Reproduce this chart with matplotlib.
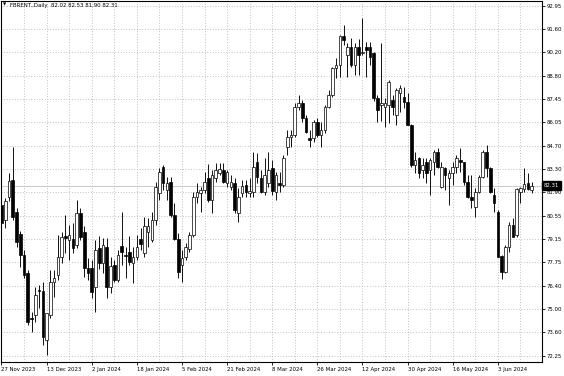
import matplotlib
matplotlib.use("Agg")
import matplotlib.pyplot as plt
from matplotlib.transforms import blended_transform_factory

# ---- data ----
opens = [81.15, 80.30, 81.65, 82.64, 80.77, 79.43, 78.20, 77.12, 74.50, 74.66,
         76.15, 76.10, 73.18, 74.66, 76.63, 77.02, 78.10, 79.30, 79.09, 79.13,
         78.80, 80.70, 79.58, 77.42, 77.42, 76.33, 78.60, 77.71, 78.70, 76.33,
         77.61, 76.73, 78.74, 78.20, 78.40, 77.71, 78.10, 79.13, 78.30, 79.58,
         79.09, 80.27, 81.85, 83.43, 82.05, 82.54, 80.57, 79.13, 77.61, 78.10,
         78.55, 79.39, 81.65, 81.85, 82.05, 82.74, 81.46, 82.74, 83.04, 83.23,
         82.44, 82.24, 82.44, 80.67, 81.85, 82.34, 81.85, 81.95, 83.72, 82.74,
         81.95, 82.44, 83.35, 81.95, 82.44, 82.34, 84.61, 85.20, 85.30, 86.98,
         87.18, 86.29, 85.10, 85.10, 86.09, 85.30, 85.60, 86.98, 87.67, 89.25,
         89.44, 91.13, 90.03, 90.53, 89.44, 90.53, 90.13, 90.53, 90.49, 90.13,
         87.47, 87.08, 86.98, 87.08, 87.37, 86.48, 87.77, 87.57, 87.23, 85.89,
         83.53, 83.92, 83.23, 83.72, 83.23, 83.72, 84.31, 82.24, 83.33, 82.74,
         83.04, 83.43, 83.82, 83.72, 82.54, 81.65, 81.06, 81.95, 82.83, 84.31,
         83.33, 81.75, 80.77, 78.15, 77.22, 78.66, 79.98, 79.39, 81.95, 82.09,
         82.44, 82.02]
highs = [81.50, 81.60, 83.05, 84.60, 80.97, 79.60, 78.50, 77.30, 74.85, 76.33,
         76.43, 76.63, 74.80, 77.32, 77.30, 79.39, 79.58, 80.57, 79.98, 80.08,
         81.46, 80.97, 79.90, 78.00, 77.90, 79.09, 79.33, 79.19, 79.20, 78.10,
         77.90, 78.50, 80.77, 78.70, 79.33, 78.70, 79.39, 79.78, 80.47, 80.38,
         80.77, 82.54, 83.33, 83.53, 82.83, 82.83, 81.26, 79.50, 78.50, 78.90,
         79.58, 81.95, 82.44, 82.24, 83.13, 83.58, 83.23, 83.63, 83.63, 83.63,
         83.23, 82.93, 82.74, 82.15, 82.64, 82.64, 82.74, 84.31, 84.22, 83.23,
         83.92, 84.31, 83.82, 83.10, 83.13, 84.12, 85.60, 85.60, 87.18, 87.67,
         87.37, 86.48, 85.60, 86.19, 86.30, 86.09, 87.08, 87.96, 89.34, 89.84,
         91.21, 91.80, 90.72, 91.02, 90.72, 91.00, 92.20, 90.82, 90.82, 90.19,
         87.67, 90.72, 87.47, 88.55, 87.67, 88.06, 88.25, 88.16, 87.77, 85.95,
         84.31, 84.00, 83.92, 83.92, 83.92, 84.41, 84.51, 83.72, 83.43, 83.23,
         83.72, 84.12, 84.51, 83.72, 82.93, 82.93, 82.15, 82.93, 84.41, 84.71,
         83.43, 82.15, 80.87, 78.20, 78.80, 80.17, 80.38, 82.15, 82.20, 83.33,
         83.04, 82.53]
lows = [79.10, 79.80, 81.40, 80.30, 78.70, 77.50, 76.83, 74.06, 73.67, 74.26,
        75.05, 72.88, 72.29, 74.50, 75.74, 76.70, 77.71, 78.30, 77.91, 78.30,
        78.60, 79.10, 76.92, 76.73, 75.64, 74.85, 77.40, 77.12, 75.64, 75.94,
        76.60, 76.60, 77.61, 76.83, 77.61, 76.53, 77.91, 78.50, 78.10, 78.70,
        79.00, 79.98, 81.46, 82.05, 81.46, 80.47, 79.09, 76.83, 76.63, 77.91,
        78.40, 79.29, 81.26, 80.77, 81.85, 81.36, 80.67, 82.54, 82.93, 82.44,
        82.24, 82.05, 80.67, 80.17, 81.65, 81.65, 81.65, 81.65, 82.44, 81.85,
        81.75, 82.24, 81.75, 81.46, 81.95, 82.24, 84.12, 84.61, 85.20, 86.78,
        86.09, 85.40, 84.61, 84.90, 85.20, 84.61, 85.40, 86.88, 87.57, 88.65,
        88.75, 90.62, 88.75, 89.34, 88.85, 88.85, 90.03, 88.75, 89.44, 87.30,
        86.09, 86.13, 85.79, 85.99, 86.48, 85.89, 86.68, 86.88, 85.89, 83.43,
        83.04, 82.74, 82.74, 82.44, 81.75, 82.93, 83.33, 82.15, 82.05, 81.16,
        82.34, 83.04, 83.13, 82.34, 81.56, 80.97, 80.47, 81.85, 82.74, 82.83,
        81.85, 80.77, 78.10, 76.77, 77.12, 78.40, 79.29, 79.29, 81.26, 81.95,
        82.05, 81.90]
closes = [80.10, 81.40, 82.60, 80.47, 79.00, 78.20, 77.02, 74.26, 74.42, 75.84,
          76.10, 73.37, 74.79, 76.63, 76.83, 78.10, 79.29, 79.23, 79.39, 78.60,
          80.70, 79.29, 77.42, 77.12, 76.03, 78.50, 77.71, 78.80, 76.33, 77.55,
          76.73, 78.20, 78.40, 78.14, 77.81, 78.10, 78.70, 78.86, 79.92, 79.92,
          80.27, 82.24, 83.13, 82.44, 82.44, 80.57, 79.13, 77.22, 78.00, 78.70,
          79.39, 81.65, 81.95, 82.05, 82.54, 81.46, 82.93, 83.23, 83.27, 82.54,
          83.13, 82.54, 80.87, 81.65, 82.28, 81.95, 82.00, 83.43, 82.83, 81.95,
          82.93, 83.23, 82.00, 82.93, 82.34, 83.92, 85.20, 85.30, 86.98, 87.18,
          86.29, 85.50, 85.00, 86.09, 85.30, 85.60, 86.98, 87.67, 89.25, 89.44,
          91.13, 90.92, 90.53, 89.44, 90.53, 90.03, 90.20, 90.33, 89.93, 87.47,
          86.78, 87.18, 87.18, 88.45, 86.98, 87.96, 88.06, 87.27, 85.89, 83.53,
          83.82, 83.04, 83.53, 83.04, 83.82, 84.31, 83.43, 83.43, 82.93, 83.04,
          83.43, 83.92, 83.72, 82.54, 81.65, 81.46, 81.95, 82.83, 84.31, 83.33,
          81.95, 81.26, 78.10, 77.22, 78.66, 79.98, 79.29, 82.09, 82.15, 82.39,
          82.09, 82.31]

date_labels = ["27 Nov 2023", "13 Dec 2023", "2 Jan 2024", "18 Jan 2024",
               "5 Feb 2024", "21 Feb 2024", "8 Mar 2024", "26 Mar 2024",
               "12 Apr 2024", "30 Apr 2024", "16 May 2024", "3 Jun 2024"]
price_labels = ["72.25", "73.60", "75.00", "76.40", "77.75", "79.15", "80.55",
                "81.90", "83.30", "84.70", "86.05", "87.45", "88.80", "90.20",
                "91.60", "92.95"]
price_start = 72.25
price_step = 1.38
symbol_title = "FBRENT.,Daily"

# ---- figure ----
W, H = 564, 376
fig = plt.figure(figsize=(W / 100, H / 100), dpi=100)
fig.patch.set_facecolor("white")
ax = fig.add_axes([1 / W, 14 / H, 541 / W, 361 / H])
ax.set_facecolor("white")

n = len(opens)
xs = list(range(n))
ax.set_xlim(-0.13, 143.75)
ax.set_ylim(71.877, 93.226)

# grid / ticks
ytick_pos = [price_start + price_step * k for k in range(len(price_labels))]
ax.set_yticks(ytick_pos)
ax.set_yticklabels(price_labels)
ax.yaxis.tick_right()
ax.set_xticks(list(range(0, 12 * len(date_labels), 12)))
ax.set_xticklabels(date_labels, ha="left")
ax.set_xticks(list(range(6, n, 12)), minor=True)

grid_kw = dict(color="#b8b8b8", linestyle=(0, (1, 2)), linewidth=0.65)
ax.grid(True, which="major", axis="both", **grid_kw)
ax.xaxis.grid(True, which="minor", **grid_kw)
ax.set_axisbelow(True)

font = "DejaVu Sans"
fs = 3.9
ax.tick_params(axis="y", which="major", direction="out", length=2.2, width=0.6,
               pad=1.2, labelsize=fs, colors="black")
ax.tick_params(axis="x", which="major", direction="out", length=2.2, width=0.6,
               pad=1.5, labelsize=fs, colors="black")
ax.tick_params(axis="x", which="minor", length=0)
for lab in ax.get_xticklabels() + ax.get_yticklabels():
    lab.set_family(font)

for sp in ax.spines.values():
    sp.set_color("black")
    sp.set_linewidth(0.8)

# bid line
ax.axhline(closes[-1], color="#c4c4c4", linewidth=0.6, zorder=1)

# candles
ax.vlines(xs, lows, highs, colors="black", linewidth=0.65, zorder=3)
bottoms = [min(o, c) for o, c in zip(opens, closes)]
heights = [max(abs(c - o), 0.03) for o, c in zip(opens, closes)]
faces = ["white" if c >= o else "black" for o, c in zip(opens, closes)]
ax.bar(xs, heights, bottom=bottoms, width=0.7, color=faces,
       edgecolor="black", linewidth=0.5, zorder=4)

# current price box
tr = blended_transform_factory(ax.transAxes, ax.transData)
ax.text(1.0 + 2.0 / 541, closes[-1], f"{closes[-1]:.2f}", transform=tr,
        ha="left", va="center", fontsize=fs, color="white", family=font,
        bbox=dict(boxstyle="square,pad=0.3", facecolor="black",
                  edgecolor="black"), zorder=10, clip_on=False)

# header
header = f"{symbol_title}  {opens[-1]:.2f} {highs[-1]:.2f} {lows[-1]:.2f} {closes[-1]:.2f}"
fig.text(3 / W, 1 - 5 / H, "\u25bc", fontsize=3.0, va="center", ha="left",
         family=font, color="black")
fig.text(9.5 / W, 1 - 5 / H, header, fontsize=fs, va="center", ha="left",
         family=font, color="black")

fig.savefig("out.png", dpi=100, facecolor="white")
